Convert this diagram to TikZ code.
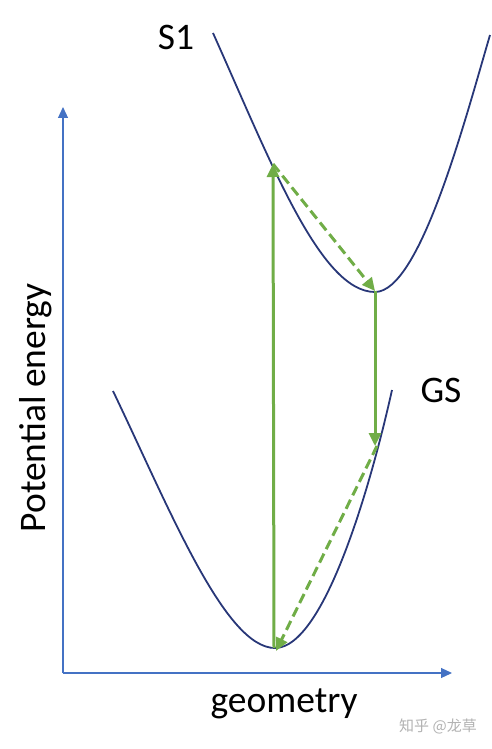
\documentclass[tikz,border=0pt]{standalone}
\usepackage{fontspec}
\setmainfont{Carlito}
\newfontfamily\cjk{Noto Sans CJK SC}
\usetikzlibrary{arrows.meta}
\definecolor{curveblue}{RGB}{40,55,120}
\definecolor{axisblue}{RGB}{68,114,196}
\definecolor{transgreen}{RGB}{112,173,71}

\begin{document}
\begin{tikzpicture}[x=1pt,y=-1pt,
  axis/.style={draw=axisblue,line width=1.2pt,-{Triangle[length=11pt,width=10pt]}},
  pes/.style={draw=curveblue,line width=1.8pt},
  vert/.style={draw=transgreen,line width=3pt,-{Triangle[length=13pt,width=12pt]}},
  relax/.style={draw=transgreen,line width=3pt,dash pattern=on 10pt off 5pt,-{Triangle[length=13pt,width=12pt]}},
  label/.style={font=\fontsize{37.5}{42}\selectfont}]
 \useasboundingbox (0,0) rectangle (492,749);
 % axes
 \coordinate (origin) at (63,673);
 \coordinate (ytop) at (63,107);
 \coordinate (xend) at (452,673);
 \draw[axis] (origin) -- (ytop);
 \draw[axis] (origin) -- (xend);
 % potential energy surfaces
 \draw[pes] (213,33) .. controls (270,160) and (320,292) .. (375,292)
   .. controls (420,292) and (465,120) .. (490,35);
 \draw[pes] (113,391) .. controls (170,510) and (225,648) .. (275,648)
   .. controls (325,648) and (372,480) .. (392,390);
 % points on the curves
 \coordinate (gsmin) at (274,648);
 \coordinate (frank) at (273,164);
 \coordinate (s1min) at (375,291);
 \coordinate (emit) at (375,446);
 \draw[vert] (gsmin) -- (frank);
 \draw[relax] (frank) -- (s1min);
 \draw[vert] (s1min) -- (emit);
 \draw[relax] ([xshift=2pt]emit) -- ([xshift=2pt,yshift=-3pt]gsmin);
 % labels
 \node[label] (s1) at (176,37) {S1};
 \node[label] (gs) at (441,390) {GS};
 \node[label,rotate=90] (ylab) at (36,408) {Potential energy};
 \node[label] (xlab) at (284,704) {geometry};
 \node[text=black!30,font=\cjk\fontsize{15}{17}\selectfont] (mark) at (438,726) {知乎 @龙草};
\end{tikzpicture}
\end{document}
